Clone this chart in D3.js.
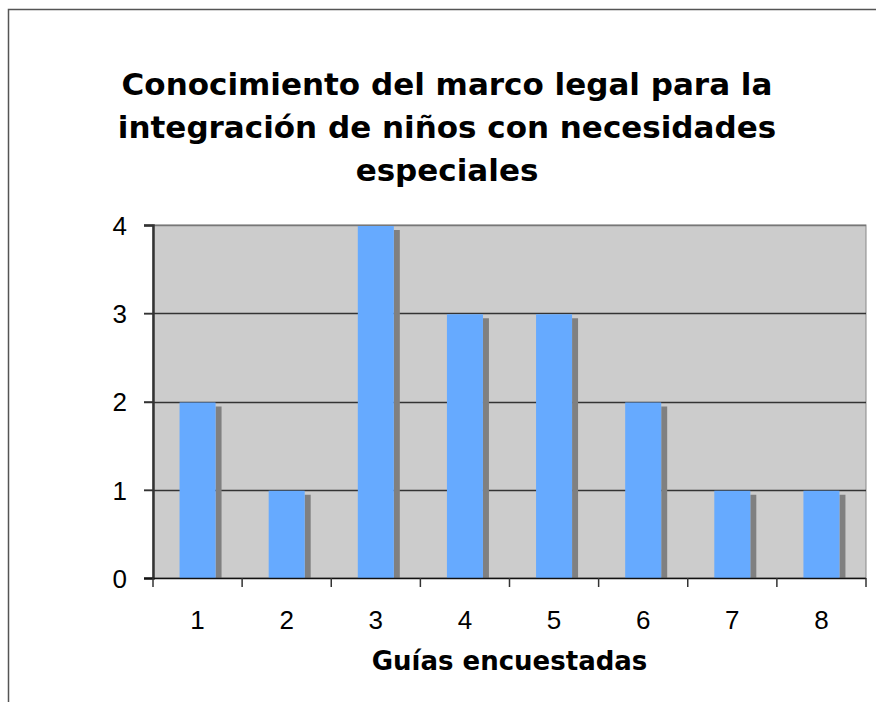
<!DOCTYPE html>
<html>
<head>
<meta charset="utf-8">
<script src="https://cdn.jsdelivr.net/npm/d3@7"></script>
<style>
  body { margin: 0; background: #fff; }
  svg { display: block; }
</style>
</head>
<body>
<svg width="876" height="702"></svg>
<script>
var categories = ["1", "2", "3", "4", "5", "6", "7", "8"];
var values = [2, 1, 4, 3, 3, 2, 1, 1];
var yTicks = [0, 1, 2, 3, 4];
var titleLines = ["Conocimiento del marco legal para la", "integración de niños con necesidades", "especiales"];
var xTitle = "Guías encuestadas";

var svg = d3.select("svg"),
  width = +svg.attr("width"),
  height = +svg.attr("height");

var plotL = 153, plotR = 866, plotT = 225, plotB = 578;

// outer chart frame (runs past the window edge)
svg.append("rect")
  .attr("x", 8.5).attr("y", 9.5)
  .attr("width", 900).attr("height", 720)
  .attr("fill", "#fff")
  .attr("stroke", "#555")
  .attr("stroke-width", 1.5);

var x = d3.scaleBand().domain(categories).range([plotL, plotR]);
var y = d3.scaleLinear().domain([0, 4]).range([plotB, plotT]);

// plot background
svg.append("rect")
  .attr("x", plotL).attr("y", plotT)
  .attr("width", plotR - plotL).attr("height", plotB - plotT)
  .attr("fill", "#cccccc")
  .attr("stroke", "#888")
  .attr("stroke-width", 1);

// gridlines
svg.append("g")
  .selectAll("line")
  .data(yTicks.filter(function(d) { return d > 0; }))
  .enter().append("line")
  .attr("x1", plotL - 9).attr("x2", plotR)
  .attr("y1", function(d) { return Math.round(y(d)) + 0.5; })
  .attr("y2", function(d) { return Math.round(y(d)) + 0.5; })
  .attr("stroke", function(d) { return d == 4 ? "#777" : "#333"; })
  .attr("stroke-width", 1.5);

var bw = x.bandwidth() * 0.404;
var sh = 6, drop = 5;

var bars = svg.append("g")
  .selectAll("g")
  .data(values)
  .enter().append("g");

// shadow
bars.append("rect")
  .attr("x", function(d, i) { return x(categories[i]) + (x.bandwidth() - bw) / 2 + bw; })
  .attr("y", function(d) { return y(d) + drop; })
  .attr("width", sh)
  .attr("height", function(d) { return plotB - y(d) - drop; })
  .attr("fill", "#808080");

bars.append("rect")
  .attr("x", function(d, i) { return x(categories[i]) + (x.bandwidth() - bw) / 2; })
  .attr("y", function(d) { return y(d) + 1; })
  .attr("width", bw)
  .attr("height", function(d) { return plotB - y(d) - 1; })
  .attr("fill", "#66aaff");

// y axis
var yAxis = svg.append("g")
  .attr("transform", "translate(" + plotL + ",0)")
  .call(d3.axisLeft(y).tickValues(yTicks).tickSize(9).tickPadding(17).tickFormat(d3.format("d")));
yAxis.select(".domain").attr("stroke", "#333").attr("stroke-width", 2.5);
yAxis.selectAll(".tick line").attr("stroke", "#333").attr("stroke-width", 1.5);
yAxis.selectAll(".tick text")
  .attr("font-family", "Liberation Sans, Arial, sans-serif")
  .attr("font-size", 26).attr("fill", "#000")
  .attr("dy", "0.36em");

// x axis with ticks on category boundaries
var xg = svg.append("g");
xg.append("line")
  .attr("x1", plotL - 9).attr("x2", plotR)
  .attr("y1", plotB + 0.5).attr("y2", plotB + 0.5)
  .attr("stroke", "#111").attr("stroke-width", 1.5);
xg.selectAll(".bt")
  .data(categories.concat(["end"]))
  .enter().append("line")
  .attr("x1", function(d, i) { return plotL + i * x.bandwidth(); })
  .attr("x2", function(d, i) { return plotL + i * x.bandwidth(); })
  .attr("y1", plotB).attr("y2", plotB + 9)
  .attr("stroke", "#333").attr("stroke-width", 1.5);
xg.selectAll("text")
  .data(categories)
  .enter().append("text")
  .attr("x", function(d) { return x(d) + x.bandwidth() / 2; })
  .attr("y", 629)
  .attr("text-anchor", "middle")
  .attr("font-family", "Liberation Sans, Arial, sans-serif")
  .attr("font-size", 26)
  .text(function(d) { return d; });

// titles
svg.append("g")
  .selectAll("text")
  .data(titleLines)
  .enter().append("text")
  .attr("x", 447)
  .attr("y", function(d, i) { return 95 + i * 43; })
  .attr("text-anchor", "middle")
  .attr("font-family", "DejaVu Sans, Verdana, sans-serif")
  .attr("font-weight", "bold")
  .attr("font-size", 31)
  .text(function(d) { return d; });

svg.append("text")
  .attr("x", (plotL + plotR) / 2)
  .attr("y", 670)
  .attr("text-anchor", "middle")
  .attr("font-family", "DejaVu Sans, Verdana, sans-serif")
  .attr("font-weight", "bold")
  .attr("font-size", 26)
  .text(xTitle);
</script>
</body>
</html>
